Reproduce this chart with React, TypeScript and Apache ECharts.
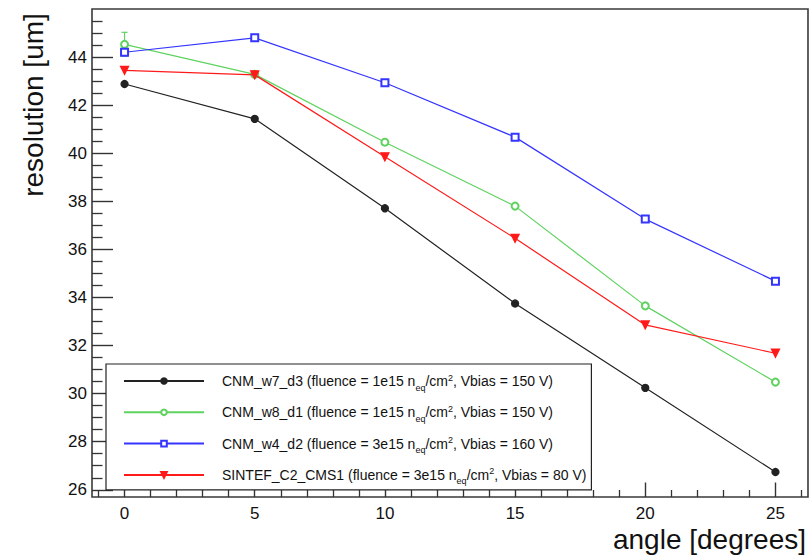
import React, { useEffect, useRef } from "react";
import * as echarts from "echarts";

const angles = [0, 5, 10, 15, 20, 25];
const seriesNames = ["CNM_w7_d3", "CNM_w8_d1", "CNM_w4_d2", "SINTEF_C2_CMS1"];
const fluences = ["1e15", "1e15", "3e15", "3e15"];
const vbias = ["150", "150", "160", "80"];
const cnmW7D3 = [42.88, 41.43, 37.71, 33.75, 30.24, 26.74];
const cnmW8D1 = [44.53, 43.28, 40.46, 37.8, 33.65, 30.48];
const cnmW4D2 = [44.2, 44.8, 42.93, 40.67, 37.26, 34.68];
const sintef = [43.45, 43.26, 39.85, 36.46, 32.86, 31.68];
const errW8D1 = [0.5, 0, 0, 0, 0, 0];
const yMajor = [26, 28, 30, 32, 34, 36, 38, 40, 42, 44];
const xMajor = [0, 5, 10, 15, 20, 25];
const yMinor = [26.5, 27, 27.5, 28.5, 29, 29.5, 30.5, 31, 31.5, 32.5, 33, 33.5, 34.5, 35, 35.5, 36.5, 37, 37.5, 38.5, 39, 39.5, 40.5, 41, 41.5, 42.5, 43, 43.5, 44.5, 45, 45.5];
const xMinor = [-1, 1, 2, 3, 4, 6, 7, 8, 9, 11, 12, 13, 14, 16, 17, 18, 19, 21, 22, 23, 24, 26];

const FONT = "'Liberation Sans', Arial, Helvetica, sans-serif";

export default function App() {
  const ref = useRef<HTMLDivElement>(null);
  useEffect(() => {
    if (!ref.current) return;
    const chart = echarts.init(ref.current, undefined, { renderer: "svg" });
    const xMin = -1.25, xMax = 26.25, yMin = 25.7, yMax = 46;
    const colors = ["#222222", "#5fd35f", "#3535ff", "#ff1a1a"];
    const symbols = ["circle", "emptyCircle", "emptyRect", "triangle"];
    const values = [cnmW7D3, cnmW8D1, cnmW4D2, sintef];
    const lineSeries = values.map((vals, i) => ({
      name: seriesNames[i],
      type: "line",
      xAxisIndex: 0,
      yAxisIndex: 0,
      data: angles.map((a, j) => [a, vals[j]]),
      symbol: symbols[i],
      symbolSize: i === 3 ? 8 : 7,
      symbolRotate: i === 3 ? 180 : 0,
      showSymbol: true,
      lineStyle: { color: colors[i], width: 1.2 },
      itemStyle: { color: colors[i], borderColor: colors[i], borderWidth: 1.3 },
      z: 3 + i,
    }));
    const errSeries = {
      type: "custom",
      xAxisIndex: 0,
      yAxisIndex: 0,
      data: angles.map((a, j) => [a, cnmW8D1[j], errW8D1[j]]),
      z: 2,
      renderItem: (params: any, api: any) => {
        const x = api.value(0), y = api.value(1), e = api.value(2);
        if (!e) return { type: "group", children: [] };
        const top = api.coord([x, y + e]);
        const bot = api.coord([x, y - e]);
        const st = { stroke: colors[1], lineWidth: 1.2 };
        return {
          type: "group",
          children: [
            { type: "line", shape: { x1: top[0], y1: top[1], x2: bot[0], y2: bot[1] }, style: st },
            { type: "line", shape: { x1: top[0] - 3, y1: top[1], x2: top[0] + 3, y2: top[1] }, style: st },
            { type: "line", shape: { x1: bot[0] - 3, y1: bot[1], x2: bot[0] + 3, y2: bot[1] }, style: st },
          ],
        };
      },
    };
    const legendText: Record<string, string> = {};
    seriesNames.forEach((n, i) => {
      legendText[n] = `${n} (fluence = ${fluences[i]} n{sub|eq}/cm{sup|2}, Vbias = ${vbias[i]} V)`;
    });
    const hiddenLine = { show: false, onZero: false };
    chart.setOption({
      animation: false,
      backgroundColor: "#ffffff",
      grid: { left: 92, top: 9, right: 2, bottom: 58, show: true, borderColor: "#3a3a3a", borderWidth: 1.6, backgroundColor: "transparent" },
      xAxis: [
        {
          type: "value", min: xMin, max: xMax, position: "bottom",
          axisLine: hiddenLine,
          splitLine: { show: false },
          axisTick: { show: true, inside: true, length: 14.5, customValues: xMajor, lineStyle: { color: "#333", width: 1.4 } },
          axisLabel: { show: true, customValues: xMajor, margin: 8, color: "#111", fontSize: 17, fontFamily: FONT },
        },
        {
          type: "value", min: xMin, max: xMax, position: "bottom",
          axisLine: hiddenLine,
          splitLine: { show: false },
          axisTick: { show: true, inside: true, length: 7, customValues: xMinor, lineStyle: { color: "#333", width: 1.3 } },
          axisLabel: { show: false },
        },
      ],
      yAxis: [
        {
          type: "value", min: yMin, max: yMax, position: "left",
          axisLine: hiddenLine,
          splitLine: { show: false },
          axisTick: { show: true, inside: true, length: 21, customValues: yMajor, lineStyle: { color: "#333", width: 1.4 } },
          axisLabel: { show: true, customValues: yMajor, margin: 5, color: "#111", fontSize: 17, fontFamily: FONT },
        },
        {
          type: "value", min: yMin, max: yMax, position: "left",
          axisLine: hiddenLine,
          splitLine: { show: false },
          axisTick: { show: true, inside: true, length: 10.5, customValues: yMinor, lineStyle: { color: "#333", width: 1.3 } },
          axisLabel: { show: false },
        },
      ],
      legend: {
        show: true,
        orient: "vertical",
        left: 106,
        top: 364,
        padding: [9, 5, 4, 17],
        itemWidth: 80,
        itemHeight: 7,
        itemGap: 12.3,
        borderColor: "#222",
        borderWidth: 1.2,
        backgroundColor: "#fff",
        data: seriesNames,
        formatter: (name: string) => legendText[name],
        textStyle: {
          fontFamily: FONT,
          fontSize: 14,
          color: "#111",
          lineHeight: 16,
          padding: [0, 0, 0, 13],
          rich: {
            sub: { fontSize: 9, fontFamily: FONT, color: "#111", verticalAlign: "bottom", lineHeight: 9, padding: [0, 0, -3, 0] },
            sup: { fontSize: 9, fontFamily: FONT, color: "#111", verticalAlign: "top", lineHeight: 9 },
          },
        },
      },
      graphic: [
        {
          type: "text", x: 33, y: 105, rotation: Math.PI / 2,
          style: { text: "resolution [um]", fontSize: 28, fontFamily: FONT, fill: "#111", align: "center", verticalAlign: "middle" },
        },
        {
          type: "text", x: 806, y: 539,
          style: { text: "angle [degrees]", fontSize: 28, fontFamily: FONT, fill: "#111", align: "right", verticalAlign: "middle" },
        },
      ],
      series: [errSeries, ...lineSeries],
    });
    return () => chart.dispose();
  }, []);
  return <div ref={ref} style={{ position: "fixed", left: 0, top: 0, width: 810, height: 555 }} />;
}
